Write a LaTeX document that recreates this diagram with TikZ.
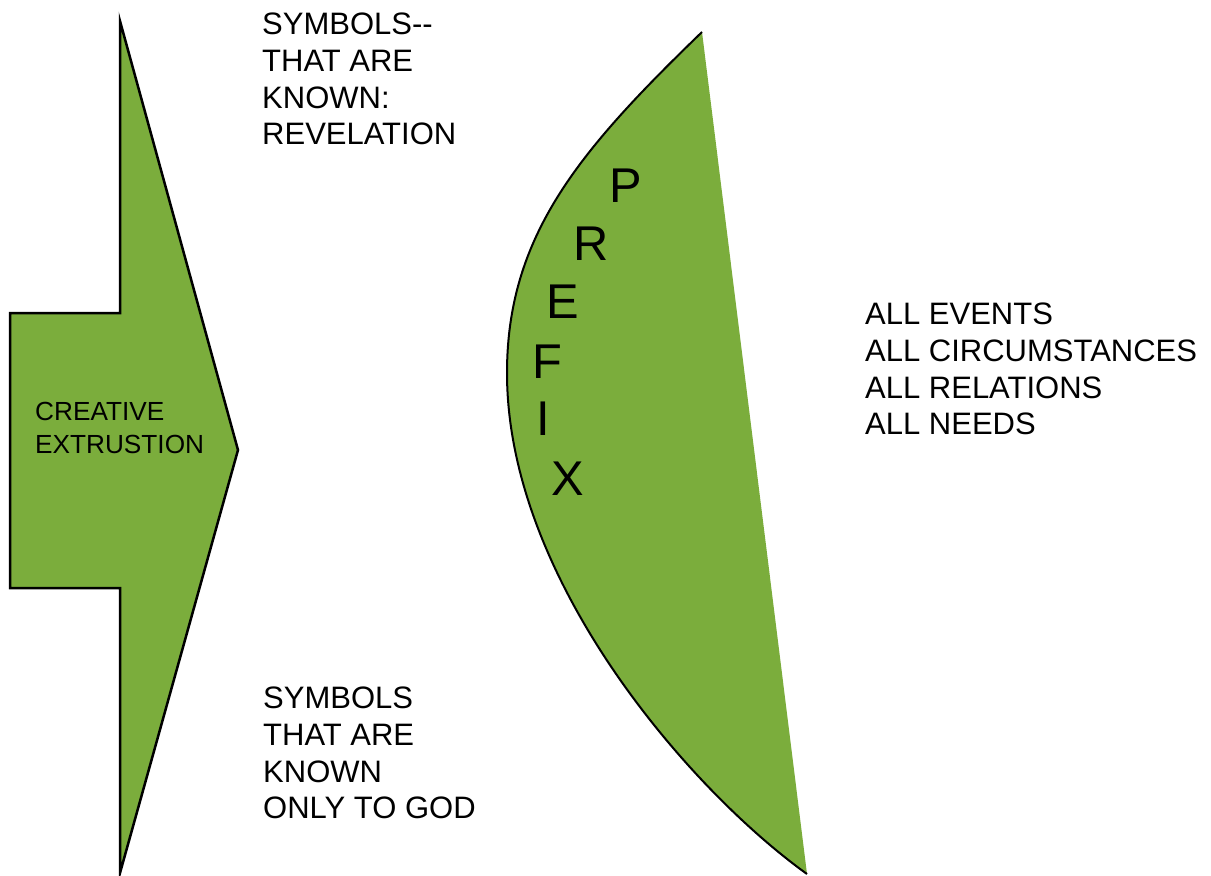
\documentclass[tikz,border=0pt]{standalone}
\usepackage{fontspec}
\setmainfont{Liberation Sans}
\usetikzlibrary{positioning}
\definecolor{leaf}{RGB}{123,173,60}
\tikzstyle{greenpart} = [fill=leaf, draw=black, line width=2.5pt, line join=miter]
\tikzstyle{caption} = [anchor=north west, inner sep=0pt, align=left, text=black, font=\fontsize{31}{36.7}\selectfont]
\tikzstyle{arrowtext} = [anchor=north west, inner sep=0pt, align=left, text=black, font=\fontsize{26.2}{33}\selectfont]
\tikzstyle{letter} = [inner sep=0pt, on grid, text=black, font=\fontsize{48.8}{58}\selectfont]

\begin{document}
\begin{tikzpicture}[x=1pt, y=-1pt]
\useasboundingbox (0,0) rectangle (1211,876);

% shapes =============================

% extrusion arrow
\draw[greenpart] (120,21) -- (238,450) -- (120,873) -- (120,588) -- (10,588) -- (10,313) -- (120,313) -- cycle;

% lens
\coordinate (ltop) at (702,32);
\coordinate (lmid) at (507,373);
\coordinate (lbot) at (807,874);
\fill[leaf] (ltop) .. controls (580,150) and (507,235) .. (lmid) .. controls (507,580) and (690,790) .. (lbot) -- cycle;
\draw[line width=2pt] (ltop) .. controls (580,150) and (507,235) .. (lmid) .. controls (507,580) and (690,790) .. (lbot);

% texts =============================
\node[arrowtext] (extr) at (35,402) {CREATIVE\\EXTRUSTION};
\node[caption] (known) at (262,13) {SYMBOLS-{}-\\THAT ARE\\KNOWN:\\REVELATION};
\node[caption] (god) at (263,687) {SYMBOLS\\THAT ARE\\KNOWN\\ONLY TO GOD};
\node[caption] (all) at (865,303) {ALL EVENTS\\ALL CIRCUMSTANCES\\ALL RELATIONS\\ALL NEEDS};

% prefix
\node[letter] (p) at (626,186) {P};
\node[letter, below left=58pt and 35pt of p] (r) {R};
\node[letter, below left=58pt and 28pt of r] (e) {E};
\node[letter, below left=60pt and 16pt of e] (f) {F};
\node[letter, below left=57pt and 4pt of f] (i) {I};
\node[letter, below right=60pt and 25pt of i] (x) {X};

\end{tikzpicture}
\end{document}
